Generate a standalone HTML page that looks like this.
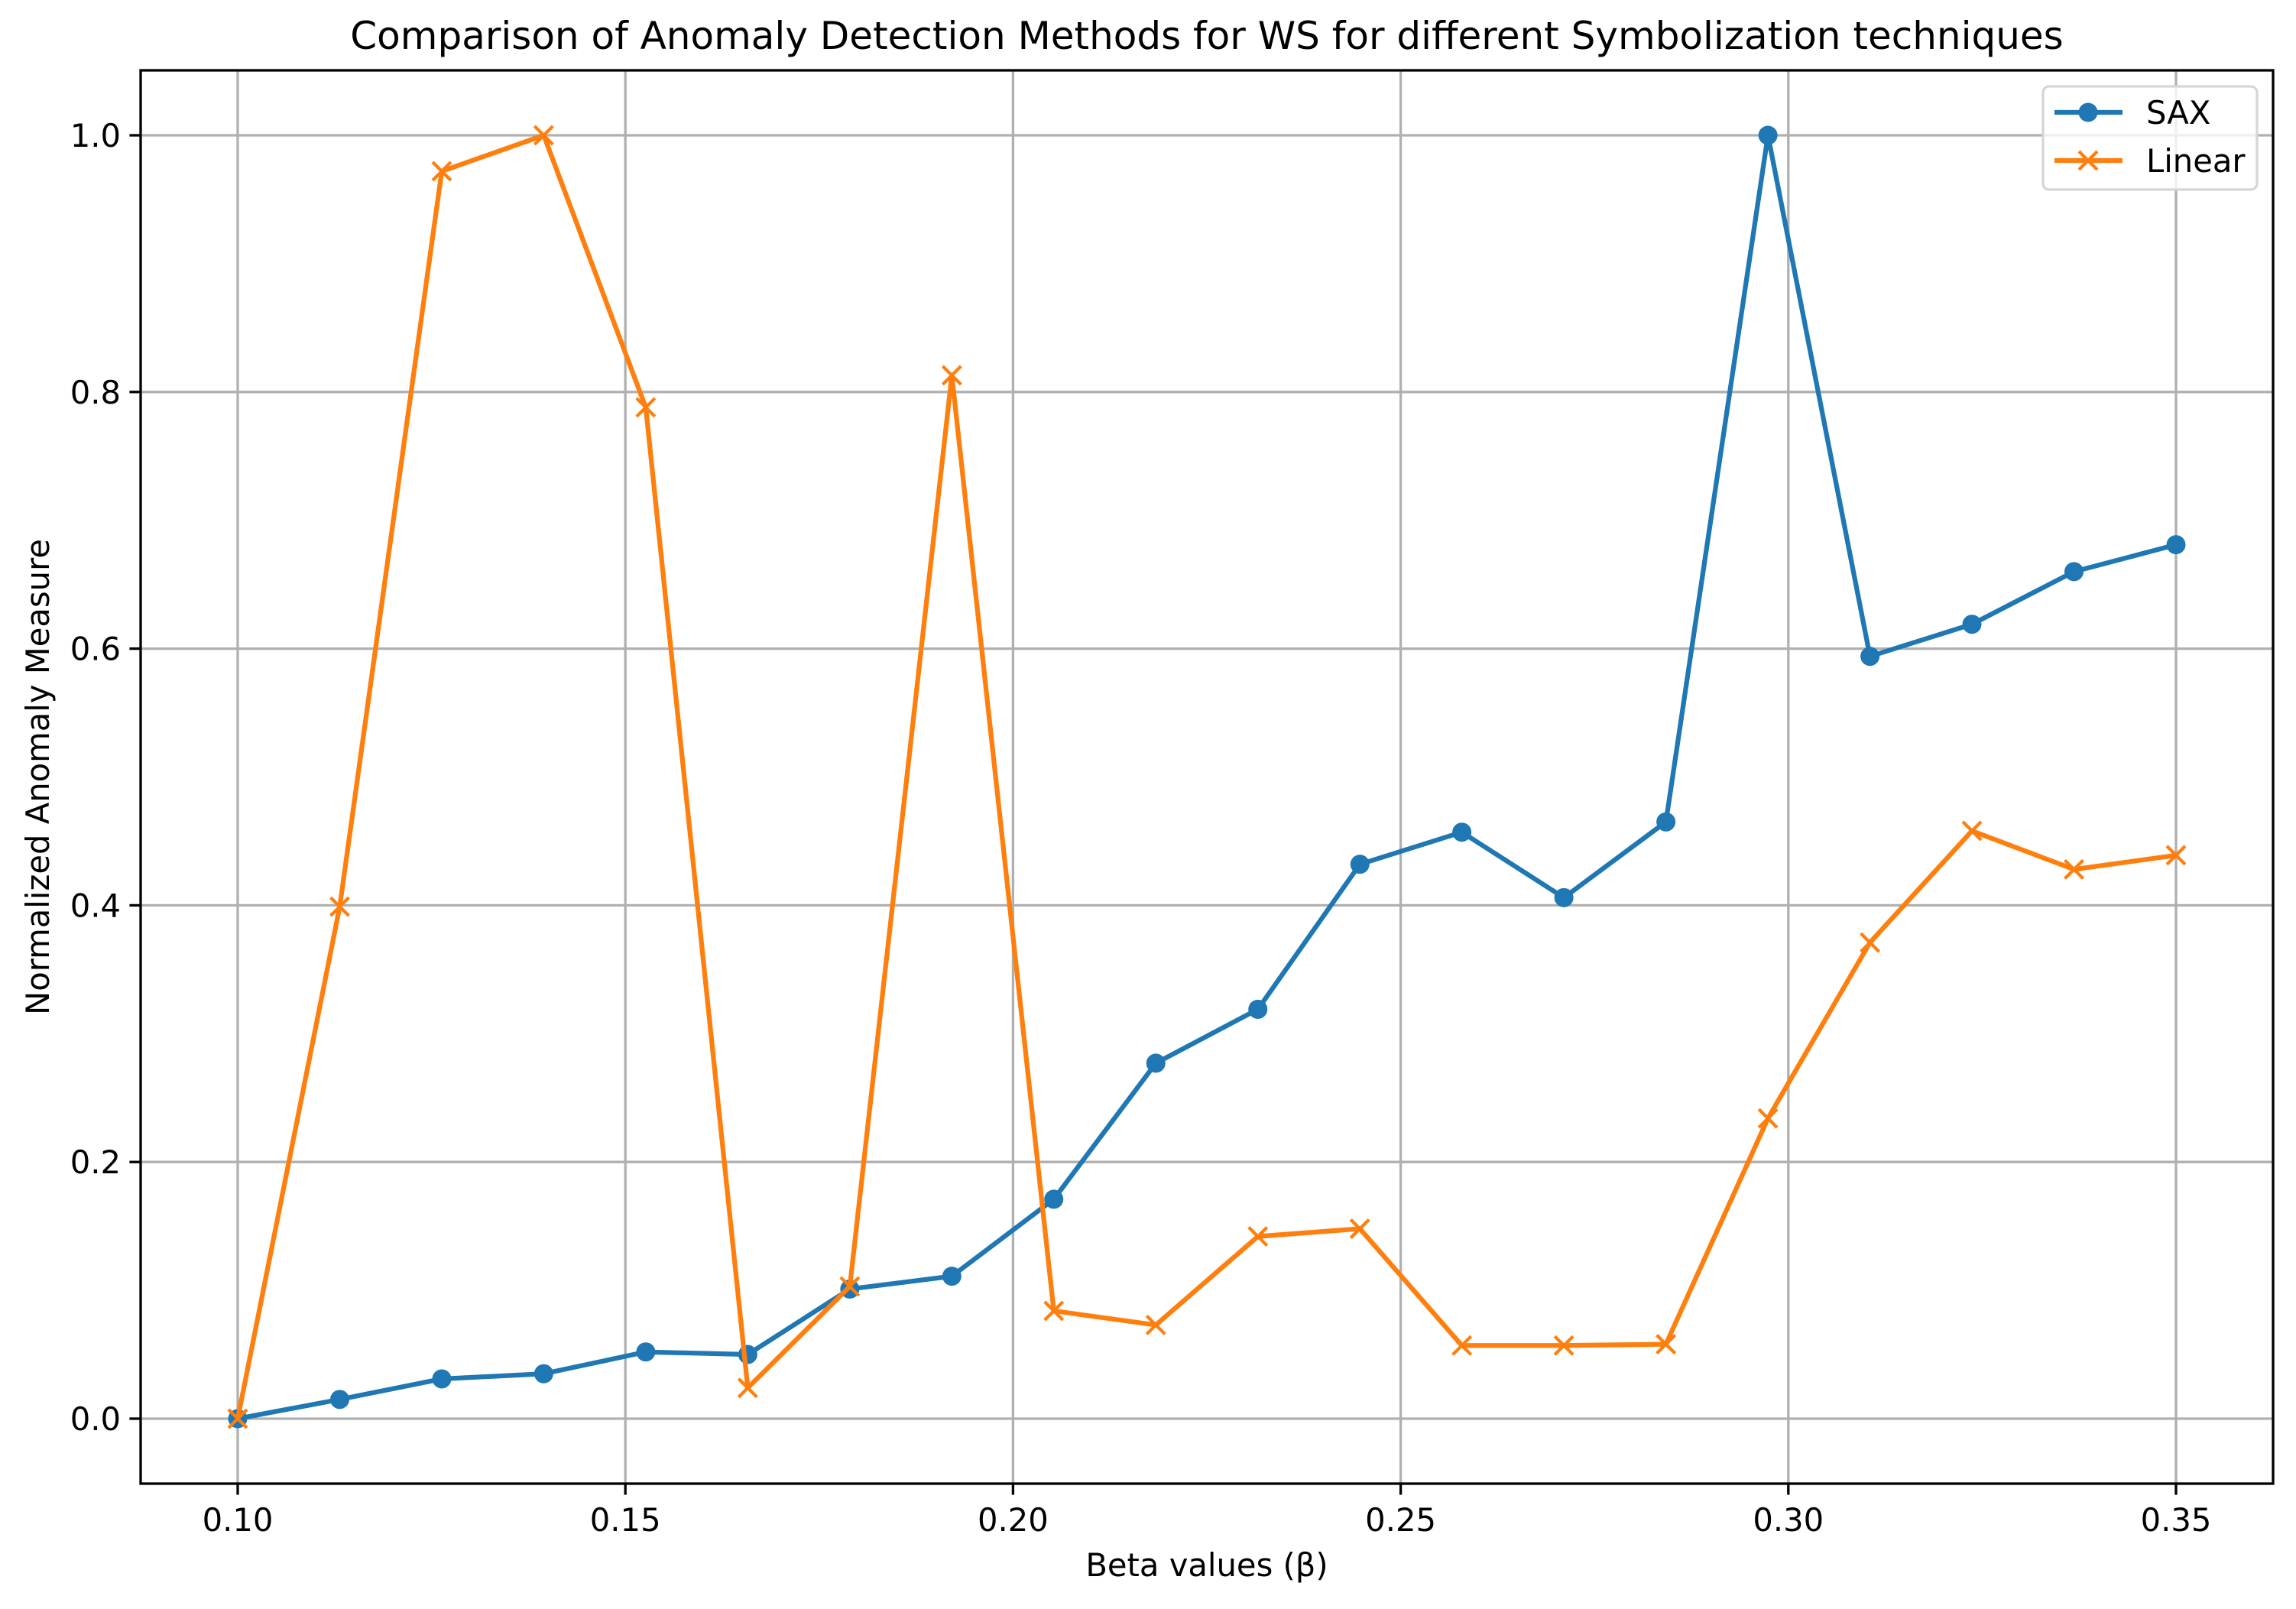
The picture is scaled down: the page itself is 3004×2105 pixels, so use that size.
<!DOCTYPE html>
<html><head><meta charset="utf-8"><style>body{margin:0;background:#fff}svg text{font-family:"DejaVu Sans","Liberation Sans",sans-serif}</style></head>
<body>
<svg id="chart" width="3004" height="2100" xmlns="http://www.w3.org/2000/svg">
<rect width="3004" height="2100" fill="#fff"/>
<g id="grid"></g><g id="axes"></g><g id="series"></g><g id="legend"></g>
</svg>
<script>
const betas=[0.1,0.11316,0.12632,0.13947,0.15263,0.16579,0.17895,0.19211,0.20526,0.21842,0.23158,0.24474,0.25789,0.27105,0.28421,0.29737,0.31053,0.32368,0.33684,0.35];
const saxValues=[0,0.015,0.031,0.035,0.052,0.050,0.101,0.111,0.171,0.277,0.319,0.432,0.457,0.406,0.465,1.0,0.594,0.619,0.660,0.681];
const linearValues=[0,0.399,0.972,1.0,0.788,0.024,0.103,0.813,0.084,0.073,0.142,0.148,0.057,0.057,0.058,0.234,0.371,0.458,0.428,0.439];
const xTicks=[0.10,0.15,0.20,0.25,0.30,0.35];
const yTicks=[0.0,0.2,0.4,0.6,0.8,1.0];
const L=184,R=2974,T=92,B=1941;
const xs=v=>311+(v-0.1)/0.05*507.2;
const ys=v=>1856-v*(1856-177);
const NS="http://www.w3.org/2000/svg";
function mk(tag,attrs,parent,txt){const e=document.createElementNS(NS,tag);for(const k in attrs)e.setAttribute(k,attrs[k]);if(txt!==undefined)e.textContent=txt;parent.appendChild(e);return e;}
const grid=document.getElementById('grid'),axes=document.getElementById('axes'),series=document.getElementById('series'),legend=document.getElementById('legend');
xTicks.forEach(t=>{const x=xs(t);
const g=mk('line',{x1:x,x2:x,y1:T,y2:B,stroke:'#b0b0b0','stroke-width':3.3},grid);

mk('line',{x1:x,x2:x,y1:B,y2:B+14.6,stroke:'#000','stroke-width':3.3},axes);
const lb=mk('text',{x:x,y:B+62,'font-size':41.7,'text-anchor':'middle'},axes,t.toFixed(2));
});
yTicks.forEach(t=>{const y=ys(t);
const g=mk('line',{x1:L,x2:R,y1:y,y2:y,stroke:'#b0b0b0','stroke-width':3.3},grid);

mk('line',{x1:L-14.6,x2:L,y1:y,y2:y,stroke:'#000','stroke-width':3.3},axes);
const lb=mk('text',{x:L-26,y:y+15,'font-size':41.7,'text-anchor':'end'},axes,t.toFixed(1));
});
const fr=mk('rect',{x:L,y:T,width:R-L,height:B-T,fill:'none',stroke:'#000','stroke-width':3.3},axes);

const ti=mk('text',{x:(L+R)/2,y:64,'font-size':50,'text-anchor':'middle'},axes,'Comparison of Anomaly Detection Methods for WS for different Symbolization techniques');

const xl=mk('text',{x:(L+R)/2,y:2062,'font-size':41.7,'text-anchor':'middle'},axes,'Beta values (β)');

const yl=mk('text',{x:64,y:(T+B)/2,'font-size':41.7,'text-anchor':'middle',transform:`rotate(-90 64 ${(T+B)/2})`},axes,'Normalized Anomaly Measure');

function cross(x,y,c,p){const g=mk('g',{},p);mk('line',{x1:x-12,y1:y-12,x2:x+12,y2:y+12,stroke:c,'stroke-width':4.2},g);mk('line',{x1:x-12,y1:y+12,x2:x+12,y2:y-12,stroke:c,'stroke-width':4.2},g);return g;}
function draw(vals,color,marker,name){
const pl=mk('polyline',{points:vals.map((v,i)=>xs(betas[i])+','+ys(v)).join(' '),fill:'none',stroke:color,'stroke-width':6.25,'stroke-linejoin':'round'},series);

vals.forEach((v,i)=>{const x=xs(betas[i]),y=ys(v);let m;
if(marker==='o')m=mk('circle',{cx:x,cy:y,r:12.5,fill:color},series);else m=cross(x,y,color,series);
});}
draw(saxValues,'#1f77b4','o','sax');
draw(linearValues,'#ff7f0e','x','linear');
const lbx=mk('rect',{x:2673,y:113,width:280,height:135,rx:8,fill:'#fff','fill-opacity':0.8,stroke:'#d6d6d6','stroke-width':3.3},legend);

[['SAX','#1f77b4','o',147],['Linear','#ff7f0e','x',210]].forEach(([n,c,m,y])=>{
const g=mk('g',{},legend);
mk('line',{x1:2688,x2:2777,y1:y,y2:y,stroke:c,'stroke-width':6.25},g);
if(m==='o')mk('circle',{cx:2732,cy:y,r:12.5,fill:c},g);else cross(2732,y,c,g);
mk('text',{x:2808,y:y+15,'font-size':41.7},g,n);});
</script>
</body></html>
